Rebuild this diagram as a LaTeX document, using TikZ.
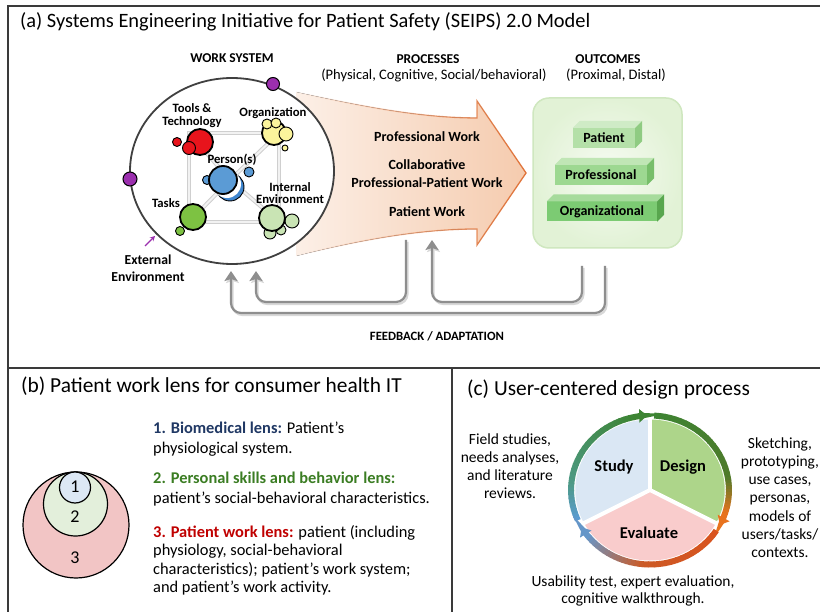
\documentclass[tikz,border=0pt]{standalone}
\usepackage{fontspec}
\setmainfont{Carlito}
\usetikzlibrary{arrows.meta,fadings,calc}

% frame and work system
\definecolor{framec}{HTML}{3A3A3A}
\definecolor{wsred}{HTML}{E8141C}
\definecolor{wsyellow}{HTML}{FBF49C}
\definecolor{wsblue}{HTML}{5B9BD5}
\definecolor{wsblued}{HTML}{3F86CF}
\definecolor{wsgreen}{HTML}{7DC242}
\definecolor{wslgreen}{HTML}{C9E4B4}
\definecolor{wspurple}{HTML}{9B2FAE}
\definecolor{netgrey}{HTML}{CFCFCF}
% processes and outcomes
\definecolor{procfill}{HTML}{F5CBAE}
\definecolor{procedge}{HTML}{E2743A}
\definecolor{outin}{HTML}{F6FBF2}
\definecolor{outout}{HTML}{E2F2D6}
\definecolor{outedge}{HTML}{CFE7BF}
\definecolor{sAf}{HTML}{B4E0A8}\definecolor{sAt}{HTML}{CFEBC6}\definecolor{sAs}{HTML}{8FCB82}
\definecolor{sBf}{HTML}{9DD891}\definecolor{sBt}{HTML}{C0E6B5}\definecolor{sBs}{HTML}{77BE6A}
\definecolor{sCf}{HTML}{7CCB73}\definecolor{sCt}{HTML}{A6DB9C}\definecolor{sCs}{HTML}{58A64E}
\definecolor{fbgrey}{HTML}{8E8E8E}
\definecolor{fbshadow}{HTML}{D8D8D8}
% lenses
\definecolor{lensA}{HTML}{DCE8F5}
\definecolor{lensB}{HTML}{E3EFDB}
\definecolor{lensC}{HTML}{F2C5C5}
\definecolor{txtA}{HTML}{203864}
\definecolor{txtB}{HTML}{3B7D23}
\definecolor{txtC}{HTML}{C00000}
% design cycle
\definecolor{studyfill}{HTML}{DAE7F4}
\definecolor{designfill}{HTML}{ADD58A}
\definecolor{evalfill}{HTML}{F9CCCC}
\definecolor{ringblue}{HTML}{5B9BD5}
\definecolor{ringteal}{HTML}{4D9A86}
\definecolor{ringgreen}{HTML}{3D8433}
\definecolor{ringolive}{HTML}{4E7A2A}
\definecolor{ringorange}{HTML}{E8731E}
\definecolor{ringred}{HTML}{D9531E}
\definecolor{ringrust}{HTML}{CC5A25}
\definecolor{ringslate}{HTML}{6B93C0}

\tikzfading[name=fadeR, left color=transparent!100, right color=transparent!0]

\tikzset{
  frame/.style={draw=framec, line width=1.4pt},
  ptitle/.style={font=\fontsize{21.4}{25}\selectfont, anchor=west, inner sep=0},
  hd/.style={font=\fontsize{13.5}{16}\selectfont\bfseries, inner sep=0},
  sub/.style={font=\fontsize{14.5}{17}\selectfont, inner sep=0},
  wlab/.style={font=\fontsize{12.7}{12.5}\selectfont\bfseries, align=center, inner sep=0},
  elab/.style={font=\fontsize{13.7}{17}\selectfont\bfseries, align=center, inner sep=0},
  plab/.style={font=\fontsize{14}{18}\selectfont\bfseries, align=center, inner sep=0},
  blob/.style={circle, draw=black, line width=1.8pt, inner sep=0},
  bub/.style={draw=black, line width=0.9pt},
  net/.style={draw=netgrey, line width=1pt, double=white!95!black, double distance=2pt},
  slab/.style={inner sep=0, minimum height=20pt, font=\fontsize{14}{16}\selectfont\bfseries},
  fb/.style={draw=fbgrey, line width=2.2pt, rounded corners=10pt,
    -{Stealth[width=13pt,length=10pt,inset=2pt]}},
  fbsh/.style={fb, draw=fbshadow},
  lens/.style={circle, draw=black, line width=1.2pt, inner sep=0},
  lnum/.style={font=\fontsize{18}{20}\selectfont, inner sep=0},
  btxt/.style={font=\fontsize{16.4}{20}\selectfont, align=left, inner sep=0, anchor=west},
  ctxt/.style={font=\fontsize{15.5}{18}\selectfont, align=center, inner sep=0},
  seclab/.style={font=\fontsize{16.5}{18}\selectfont\bfseries, inner sep=0},
  ring/.style={line width=6pt, line cap=butt},
  ringtip/.style={ring, -{Triangle[width=13pt,length=8pt]}},
}

% outline of the processes arrow
\newcommand{\procpath}{(296,92) .. controls (360,106) and (420,118) .. (477,118)
  -- (477,101) -- (526,173) -- (477,245) -- (477,229)
  .. controls (420,229) and (360,240) .. (296,256) -- cycle}

% top and side faces of an outcome slab
\newcommand{\slabfaces}[3]{%
  \fill[#2] (#1.north west) -- ++(7,-7) -- ($(#1.north east)+(7,-7)$) -- (#1.north east) -- cycle;
  \fill[#3] (#1.north east) -- ++(7,-7) -- ($(#1.south east)+(7,-7)$) -- (#1.south east) -- cycle;}

% the three feedback loops
\newcommand{\fbloops}[1]{%
  \draw[#1] (f1s) -- ++(0,62) -| (f1e);
  \draw[#1] (f2s) -- ++(0,47) -| (f2e);
  \draw[#1] (f3s) -- ++(0,36) -| (f3e);}

% colour-blended piece of the design-cycle ring
\newcommand{\ringarc}[5]{%
  \foreach \k in {1,...,#5}{%
    \pgfmathsetmacro{\ringA}{#1+(#2-#1)*(\k-1)/#5}%
    \pgfmathsetmacro{\ringB}{#1+(#2-#1)*\k/#5+0.6*sign(#2-#1)}%
    \pgfmathsetmacro{\ringP}{100-100*(\k-0.5)/#5}%
    \draw[ring, draw=#3!\ringP!#4] (\ringA:74.5) arc[start angle=\ringA, end angle=\ringB, radius=74.5];
  }}

\begin{document}
\begin{tikzpicture}[x=1pt,y=-1pt]
\useasboundingbox (0,0) rectangle (820,612);
\fill[white] (0,0) rectangle (820,612);

% panel frame
\draw[frame] (8,612) -- (8,6) -- (820,6);
\draw[frame] (8,368) -- (820,368);
\draw[frame] (452,368) -- (452,612);

% ---------------- (a) SEIPS 2.0 ----------------
\node[ptitle, font=\fontsize{20.4}{24}\selectfont] (ta) at (20,22) {(a) Systems Engineering Initiative for Patient Safety (SEIPS) 2.0 Model};
\node[hd] (hws) at (232,58) {WORK SYSTEM};
\node[hd] (hpr) at (428,59) {PROCESSES};
\node[sub] (spr) at (434,75) {(Physical, Cognitive, Social/behavioral)};
\node[hd] (hoc) at (608,59) {OUTCOMES};
\node[sub] (soc) at (616,75) {(Proximal, Distal)};

% processes arrow
\fill[left color=procfill!30, right color=procfill] \procpath;
\draw[procedge, line width=1.3pt, line join=miter, path fading=fadeR] \procpath;
\node[plab] (pw1) at (427,137) {Professional Work};
\node[plab] (pw2) at (427,174) {Collaborative\\Professional-Patient Work};
\node[plab] (pw3) at (427,212) {Patient Work};

% work system
\draw[line width=1.8pt, draw=black!75, fill=white] (232,171) ellipse [x radius=102, y radius=93];
\coordinate (nTL) at (189,133);
\coordinate (nTR) at (279,133);
\coordinate (nBL) at (189,222);
\coordinate (nBR) at (279,222);
\coordinate (nC) at (230,180);
\draw[net] (nTL) -- (nTR) -- (nBR) -- (nBL) -- cycle;
\draw[net] (nTL) -- (nC) -- (nBR);
\draw[net] (nTR) -- (nC) -- (nBL);

% tools & technology
\node[blob, fill=wsred, minimum size=26pt] (ctt) at (200,142) {};
\filldraw[bub, fill=wsred] (177,142) circle[radius=4.5];
\filldraw[bub, fill=wsred] (189,148) circle[radius=6.5];
% organization
\node[blob, fill=wsyellow, minimum size=24pt] (cor) at (274,133) {};
\filldraw[bub, fill=wsyellow] (267,124) circle[radius=5];
\filldraw[bub, fill=wsyellow] (276,123) circle[radius=5];
\filldraw[bub, fill=wsyellow] (286,134) circle[radius=7];
\filldraw[bub, fill=wsyellow] (285,148) circle[radius=3];
% person(s)
\filldraw[bub, fill=wsblue] (207,180) circle[radius=4.5];
\filldraw[bub, fill=wsblue] (249,172) circle[radius=5];
\filldraw[bub, fill=wsblued] (230,187) circle[radius=14];
\fill[white] (227,184) circle[radius=14];
\node[blob, fill=wsblue, minimum size=28pt] (cpe) at (223,180) {};
% tasks
\filldraw[bub, fill=wsgreen] (180,231) circle[radius=4.5];
\node[blob, fill=wsgreen, minimum size=26pt] (cta) at (193,217) {};
% internal environment
\filldraw[bub, fill=wslgreen] (292,221) circle[radius=7];
\filldraw[bub, fill=wslgreen] (270,233) circle[radius=6];
\filldraw[bub, fill=wslgreen] (281,230) circle[radius=5];
\node[blob, fill=wslgreen, minimum size=26pt] (cie) at (272,218) {};

\node[wlab] (ltt) at (192,115.5) {Tools \&\\Technology};
\node[wlab] (lor) at (273,113) {Organization};
\node[wlab] (lpe) at (232,160) {Person(s)};
\node[wlab] (lie) at (290,193) {Internal\\Environment};
\node[wlab] (lta) at (166,203) {Tasks};
\node[elab] (lee) at (148,268.5) {External\\Environment};

\node[circle, draw=black, line width=1pt, fill=wspurple, minimum size=13pt, inner sep=0] (pd1) at (273,84) {};
\node[circle, draw=black, line width=1pt, fill=wspurple, minimum size=14pt, inner sep=0] (pd2) at (130,179) {};
\coordinate (ea1) at (145,246);
\coordinate (ea2) at (155,236);
\draw[wspurple, line width=1.2pt, -{Stealth[length=5pt,width=5pt]}] (ea1) -- (ea2);

% outcomes
\node[draw=outedge, inner color=outin, outer color=outout, line width=1.5pt,
      rounded corners=16pt, minimum width=149pt, minimum height=150pt, inner sep=0] (obox) at (607.5,173) {};
\node[slab, fill=sAf, minimum width=62pt] (sp) at (604,138) {Patient};
\slabfaces{sp}{sAt}{sAs}
\node[slab, fill=sBf, minimum width=92pt] (spr2) at (601,175) {Professional};
\slabfaces{spr2}{sBt}{sBs}
\node[slab, fill=sCf, minimum width=110pt] (sor) at (602,211.5) {Organizational};
\slabfaces{sor}{sCt}{sCs}

% feedback / adaptation
\coordinate (f1s) at (406,240);
\coordinate (f1e) at (256,271);
\coordinate (f2s) at (605,266);
\coordinate (f2e) at (231,271);
\coordinate (f3s) at (582,266);
\coordinate (f3e) at (432,240);
\begin{scope}[transform canvas={shift={(1.5,2)}}]
  \fbloops{fbsh}
\end{scope}
\fbloops{fb}
\node[hd, font=\fontsize{12.7}{15}\selectfont\bfseries] (fbl) at (437,336) {FEEDBACK / ADAPTATION};

% ---------------- (b) patient work lens ----------------
\node[ptitle] (tb) at (21,386) {(b) Patient work lens for consumer health IT};
\node[lens, fill=lensC, minimum size=106pt] (l3) at (76,525) {};
\node[lens, fill=lensB, minimum size=64pt] (l2) at (75.5,504) {};
\node[lens, fill=lensA, minimum size=31pt] (l1) at (75,487.5) {};
\node[lnum] (n1) at (75,487) {1};
\node[lnum] (n2) at (75,517) {2};
\node[lnum] (n3) at (75,558) {3};

\node[btxt] (b1) at (153,439) {{\color{txtA}\bfseries 1. Biomedical lens:} Patient’s\\physiological system.};
\node[btxt] (b2) at (153,489) {{\color{txtB}\bfseries 2. Personal skills and behavior lens:}\\patient’s social-behavioral characteristics.};
\node[btxt, font=\fontsize{16.4}{18.4}\selectfont] (b3) at (153,560.5) {{\color{txtC}\bfseries 3. Patient work lens:} patient (including\\physiology, social-behavioral\\characteristics); patient’s work system;\\and patient’s work activity.};

% ---------------- (c) user-centred design ----------------
\node[ptitle] (tc) at (467,390) {(c) User-centered design process};

\begin{scope}[shift={(650,490)}, yscale=-1, xscale=1.06]
  \fill[studyfill] (0,0) -- (90:70.5) arc[start angle=90, end angle=208, radius=70.5] -- cycle;
  \fill[designfill] (0,0) -- (-28:70.5) arc[start angle=-28, end angle=90, radius=70.5] -- cycle;
  \fill[evalfill] (0,0) -- (208:70.5) arc[start angle=208, end angle=332, radius=70.5] -- cycle;
  \draw[white, line width=4pt] (0,0) -- (90:72);
  \draw[white, line width=4pt] (0,0) -- (208:72);
  \draw[white, line width=4pt] (0,0) -- (332:72);
  % study ring
  \ringarc{204}{175}{ringblue}{ringteal}{10}
  \ringarc{175}{102}{ringteal}{ringgreen}{20}
  \draw[ringtip, draw=ringgreen] (102:74.5) arc[start angle=102, end angle=92, radius=74.5];
  % design ring
  \ringarc{87}{10}{ringgreen}{ringolive}{20}
  \ringarc{10}{-18}{ringolive}{ringorange}{12}
  \draw[ringtip, draw=ringorange] (-18:74.5) arc[start angle=-18, end angle=-28, radius=74.5];
  % evaluate ring
  \ringarc{-33}{-95}{ringred}{ringrust}{15}
  \ringarc{-95}{-140}{ringrust}{ringslate}{15}
  \draw[ringtip, draw=ringslate!60!ringblue] (-140:74.5) arc[start angle=-140, end angle=-150, radius=74.5];
\end{scope}

\node[seclab] (cs) at (614,467) {Study};
\node[seclab] (cd) at (683,467) {Design};
\node[seclab] (ce) at (649,533) {Evaluate};

\node[ctxt] (ts) at (510,466) {Field studies,\\needs analyses,\\and literature\\reviews.};
\node[ctxt, font=\fontsize{15.5}{18.2}\selectfont] (td) at (780,497.5) {Sketching,\\prototyping,\\use cases,\\personas,\\models of\\users/tasks/\\contexts.};
\node[ctxt, font=\fontsize{15.5}{17}\selectfont] (te) at (633,590.5) {Usability test, expert evaluation,\\cognitive walkthrough.};

\end{tikzpicture}
\end{document}
